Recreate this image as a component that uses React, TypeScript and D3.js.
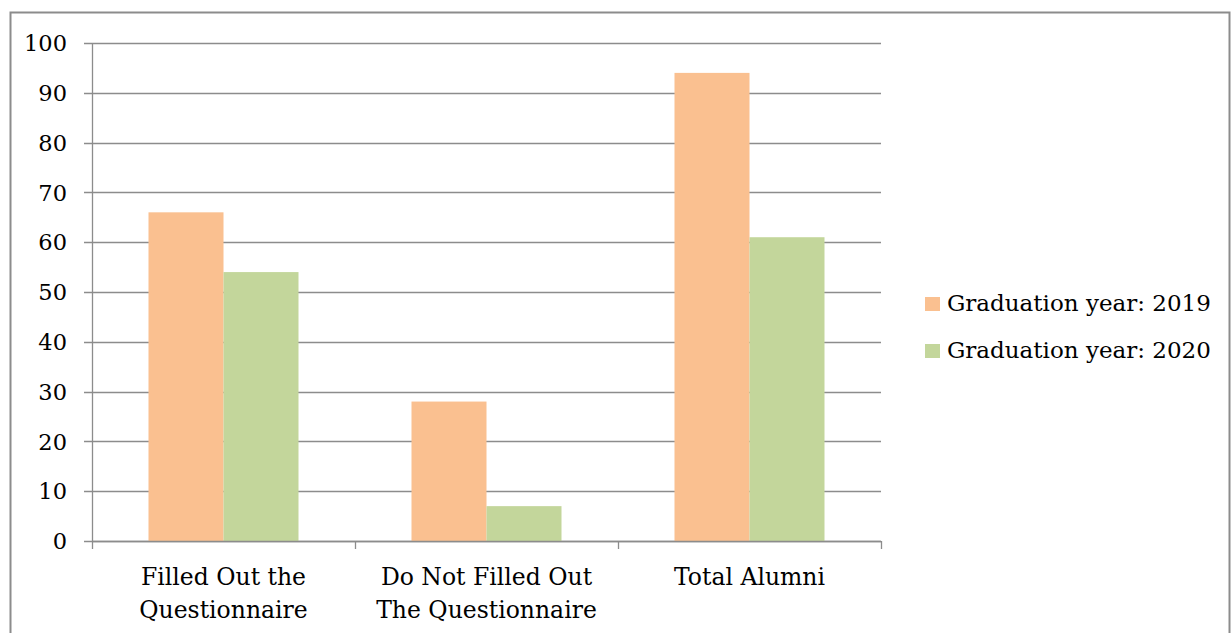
import React from "react";
import * as d3 from "d3";

const categories: string[][] = [
  ["Filled Out the", "Questionnaire"],
  ["Do Not Filled Out", "The Questionnaire"],
  ["Total Alumni"],
];
const seriesNames = ["Graduation year: 2019", "Graduation year: 2020"];
const values2019 = [66, 28, 94];
const values2020 = [54, 7, 61];
const seriesColors = ["#FAC090", "#C3D69B"];
const yTicks = [0, 10, 20, 30, 40, 50, 60, 70, 80, 90, 100];

const W = 1231;
const H = 633;
const plot = { left: 92, right: 881, top: 43, bottom: 541 };
const FONT = "'DejaVu Serif', 'Liberation Serif', serif";

export default function App() {
  const x = d3
    .scaleBand<number>()
    .domain(categories.map((_, i) => i))
    .range([plot.left, plot.right])
    .paddingInner(0)
    .paddingOuter(0);
  const inner = d3
    .scaleBand<number>()
    .domain([0, 1])
    .range([0, x.bandwidth()])
    .paddingOuter(0.7533)
    .paddingInner(0);
  const y = d3.scaleLinear().domain([0, 100]).range([plot.bottom, plot.top]);
  const series = [values2019, values2020];
  const gridColor = "#8c8c8c";

  const catEdges = d3.range(categories.length + 1).map((i) => plot.left + i * x.step());

  return (
    <svg
      width={W}
      height={H}
      style={{ position: "absolute", left: 0, top: 0, display: "block", background: "#fff" }}
      fontFamily={FONT}
    >
      {/* outer chart frame */}
      <rect x={10.5} y={12.5} width={1219} height={640} fill="none" stroke="#8c8c8c" strokeWidth={2} />

      {/* horizontal gridlines and y ticks */}
      {yTicks.map((t) => (
        <g key={t}>
          <line x1={plot.left - 8} x2={plot.right} y1={Math.round(y(t)) + 0.5} y2={Math.round(y(t)) + 0.5} stroke={gridColor} strokeWidth={1.3} />
          <text x={67} y={y(t)} dy="0.36em" textAnchor="end" fontSize={22.5} fill="#000">
            {t}
          </text>
        </g>
      ))}

      {/* bars */}
      {categories.map((_, ci) =>
        series.map((vals, si) => (
          <rect
            key={`${ci}-${si}`}
            x={(x(ci) as number) + (inner(si) as number)}
            y={y(vals[ci])}
            width={inner.bandwidth()}
            height={y(0) - y(vals[ci])}
            fill={seriesColors[si]}
          />
        ))
      )}

      {/* y axis */}
      <line x1={plot.left + 0.5} x2={plot.left + 0.5} y1={plot.top} y2={plot.bottom} stroke={gridColor} strokeWidth={1.3} />
      {/* x axis */}
      <line x1={plot.left} x2={plot.right} y1={plot.bottom + 0.5} y2={plot.bottom + 0.5} stroke={gridColor} strokeWidth={1.3} />
      {catEdges.map((cx, i) => (
        <line key={i} x1={Math.round(cx) + 0.5} x2={Math.round(cx) + 0.5} y1={plot.bottom} y2={plot.bottom + 8} stroke={gridColor} strokeWidth={1.3} />
      ))}

      {/* category labels */}
      {categories.map((lines, ci) => (
        <text key={ci} x={(x(ci) as number) + x.bandwidth() / 2} y={585} textAnchor="middle" fontSize={23.5} fill="#000">
          {lines.map((l, li) => (
            <tspan key={li} x={(x(ci) as number) + x.bandwidth() / 2} dy={li === 0 ? 0 : 32.5}>
              {l}
            </tspan>
          ))}
        </text>
      ))}

      {/* legend */}
      {seriesNames.map((name, i) => (
        <g key={name} transform={`translate(925, ${297 + i * 47})`}>
          <rect x={0} y={0} width={15} height={14} fill={seriesColors[i]} />
          <text x={22} y={14} fontSize={23} fill="#000">
            {name}
          </text>
        </g>
      ))}
    </svg>
  );
}
